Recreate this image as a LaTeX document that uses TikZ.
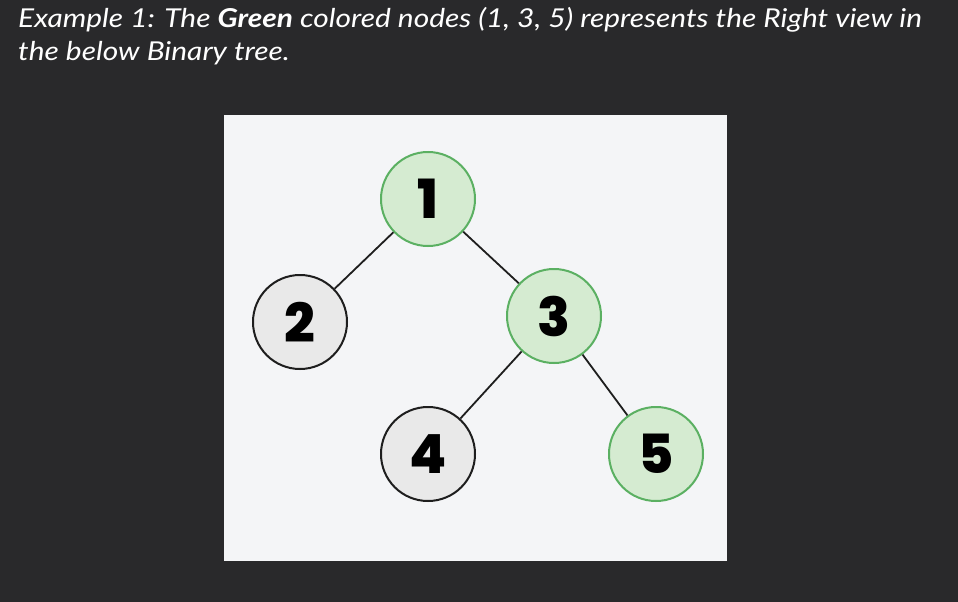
\documentclass[tikz,border=0pt]{standalone}
\usepackage{fontspec}
\setmainfont{Lato}[FakeStretch=1.15]
\newfontfamily\digitfont{Poppins}[BoldFont={* ExtraBold}]
\usetikzlibrary{
  positioning,  % relative placement
}
\definecolor{bgdark}{HTML}{29292B}
\definecolor{panel}{HTML}{F4F5F7}
\definecolor{greenfill}{HTML}{D5EBD1}
\definecolor{greenline}{HTML}{5BB062}
\definecolor{grayfill}{HTML}{E9E9E9}
\definecolor{darkline}{HTML}{1E1E1E}
\tikzset{
  my node/.style={
    circle,
    draw,
    line width=2pt,
    minimum size=94pt,
    inner sep=0pt,
    font=\digitfont\bfseries\fontsize{54}{54}\selectfont
  },
  right view/.style={
    my node,
    draw=greenline,
    fill=greenfill
  },
  hidden view/.style={
    my node,
    draw=darkline,
    fill=grayfill
  },
  tree edge/.style={
    draw=darkline,
    line width=1.8pt
  },
  caption/.style={
    anchor=base west,
    text=white,
    inner sep=0pt,
    font=\itshape\fontsize{26}{32}\selectfont
  }
}

\begin{document}
\begin{tikzpicture}[x=1pt,y=-1pt]
\fill[bgdark] (0,0) rectangle (958,602);
\fill[panel] (224,115) rectangle (727,561);
% caption
\node[caption] (line1) at (18,28) {Example 1: The \textbf{Green} colored nodes (1, 3, 5) represents the Right view in};
\node[caption] (line2) at (18,60) {the below Binary tree.};
% tree
\node[right view]  (1) at (428,199) {1};
\node[hidden view] (2) at (300,322) {2};
\node[right view]  (3) at (554,316) {3};
\node[hidden view] (4) at (428,454) {4};
\node[right view]  (5) at (656,454) {5};
\path[tree edge]
(1) edge (2)
    edge (3)
(3) edge (4)
    edge (5);
\end{tikzpicture}
\end{document}
